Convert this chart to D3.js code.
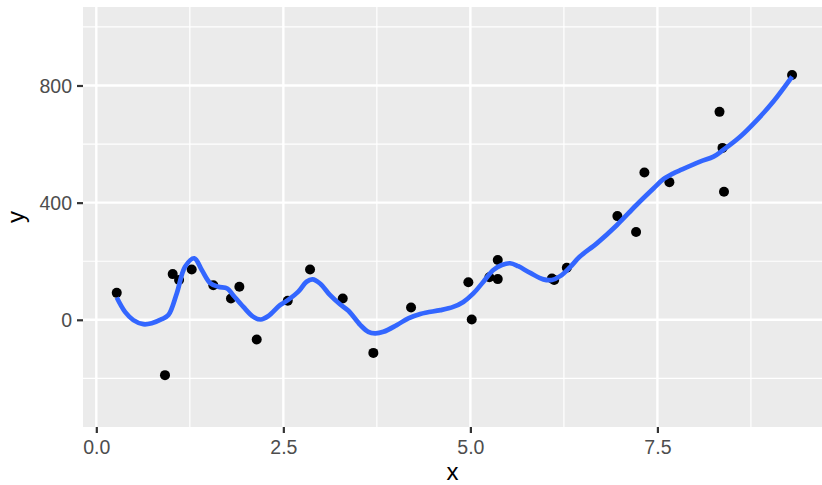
<!DOCTYPE html>
<html><head><meta charset="utf-8">
<script src="https://cdn.jsdelivr.net/npm/d3@7"></script>
<style>body{margin:0;background:#fff}svg{display:block}text{font-family:"Liberation Sans",Arial,sans-serif}</style>
</head><body>
<script>
const pointX = [0.273,0.918,1.021,1.106,1.275,1.564,1.80,1.912,2.144,2.559,2.857,3.294,3.703,4.207,4.973,5.018,5.254,5.366,5.366,6.09,6.12,6.289,6.965,7.215,7.326,7.66,8.33,8.37,8.39,9.30];
const pointY = [92,-189,156,136,172,118,73,113,-67,65,172,73,-113,42,128,1,145,204,139,141,136,178,354,300,503,470,710,587,437,836];
const smoothX = [0.273,0.384,0.495,0.628,0.74,0.874,0.963,1.075,1.186,1.31,1.41,1.52,1.63,1.75,1.83,1.966,2.1,2.198,2.3,2.455,2.559,2.70,2.81,2.89,2.99,3.125,3.257,3.37,3.53,3.636,3.726,3.837,4.016,4.17,4.33,4.417,4.6,4.77,4.906,5.04,5.174,5.307,5.42,5.53,5.64,5.80,5.976,6.09,6.2,6.33,6.46,6.69,6.957,7.22,7.45,7.58,7.714,7.80,8.07,8.25,8.38,8.605,8.83,9.05,9.30];
const smoothY = [76,27,-1,-15,-12,2,16,90,181,210,170,126,113,107,84,44,10,1,13,50,67,96,130,138,124,84,53,31,-18,-41,-46,-41,-18,5,20,25,33,44,61,90,130,170,187,193,183,160,138,136,149,179,215,261,323,392,449,480,500,510,540,557,580,625,682,745,830];
const xMajor = [0,2.5,5,7.5];
const xMinor = [1.25,3.75,6.25,8.75];
const xLabels = ["0.0","2.5","5.0","7.5"];
const yMajor = [0,400,800];
const yMinor = [-200,200,600,1000];
const yLabels = ["0","400","800"];

const W=822,H=485, L=83,R=822,T=7,B=427;
const svg=d3.select("body").append("svg").attr("width",W).attr("height",H);
const x=d3.scaleLinear().domain([-0.178,9.70]).range([L,R]);
const y=d3.scaleLinear().domain([-366,1068]).range([B,T]);

svg.append("rect").attr("x",L).attr("y",T).attr("width",R-L).attr("height",B-T).attr("fill","#EBEBEB");
const g=svg.append("g");
g.selectAll(".xmin").data(xMinor).join("line").attr("x1",d=>x(d)).attr("x2",d=>x(d)).attr("y1",T).attr("y2",B).attr("stroke","#fff").attr("stroke-width",1.2);
g.selectAll(".ymin").data(yMinor).join("line").attr("y1",d=>y(d)).attr("y2",d=>y(d)).attr("x1",L).attr("x2",R).attr("stroke","#fff").attr("stroke-width",1.2);
g.selectAll(".xmaj").data(xMajor).join("line").attr("x1",d=>x(d)).attr("x2",d=>x(d)).attr("y1",T).attr("y2",B).attr("stroke","#fff").attr("stroke-width",2.4);
g.selectAll(".ymaj").data(yMajor).join("line").attr("y1",d=>y(d)).attr("y2",d=>y(d)).attr("x1",L).attr("x2",R).attr("stroke","#fff").attr("stroke-width",2.4);

// points
svg.append("g").selectAll("circle").data(pointX.map((d,i)=>[d,pointY[i]])).join("circle")
  .attr("cx",d=>x(d[0])).attr("cy",d=>y(d[1])).attr("r",5).attr("fill","#000");
// smooth
svg.append("path").datum(smoothX.map((d,i)=>[d,smoothY[i]]))
  .attr("d",d3.line().x(d=>x(d[0])).y(d=>y(d[1])).curve(d3.curveCatmullRom.alpha(0.5)))
  .attr("fill","none").attr("stroke","#3366FF").attr("stroke-width",4.7).attr("stroke-linejoin","round");

// axes
const xa=d3.axisBottom(x).tickValues(xMajor).tickFormat((d,i)=>xLabels[i]).tickSize(6).tickPadding(8);
const xg=svg.append("g").attr("transform",`translate(0,${B})`).call(xa);
const ya=d3.axisLeft(y).tickValues(yMajor).tickFormat((d,i)=>yLabels[i]).tickSize(6).tickPadding(5);
const yg=svg.append("g").attr("transform",`translate(${L},0)`).call(ya);
[xg,yg].forEach(a=>{
  a.select(".domain").remove();
  a.selectAll(".tick line").attr("stroke","#333333").attr("stroke-width",2.2);
  a.selectAll(".tick text").attr("fill","#4D4D4D").style("font-size","19.5px").style("font-family","Liberation Sans, Arial, sans-serif");
});
xg.selectAll(".tick text").attr("dy",null).attr("y",null).attr("transform","translate(0,27)");
yg.selectAll(".tick text").attr("dy","0.36em");

svg.append("text").attr("x",(L+R)/2).attr("y",480).attr("text-anchor","middle").style("font-size","24px").attr("fill","#000").text("x");
svg.append("text").attr("transform",`translate(24,${(T+B)/2}) rotate(-90)`).attr("text-anchor","middle").style("font-size","24px").attr("fill","#000").text("y");
</script>
</body></html>
